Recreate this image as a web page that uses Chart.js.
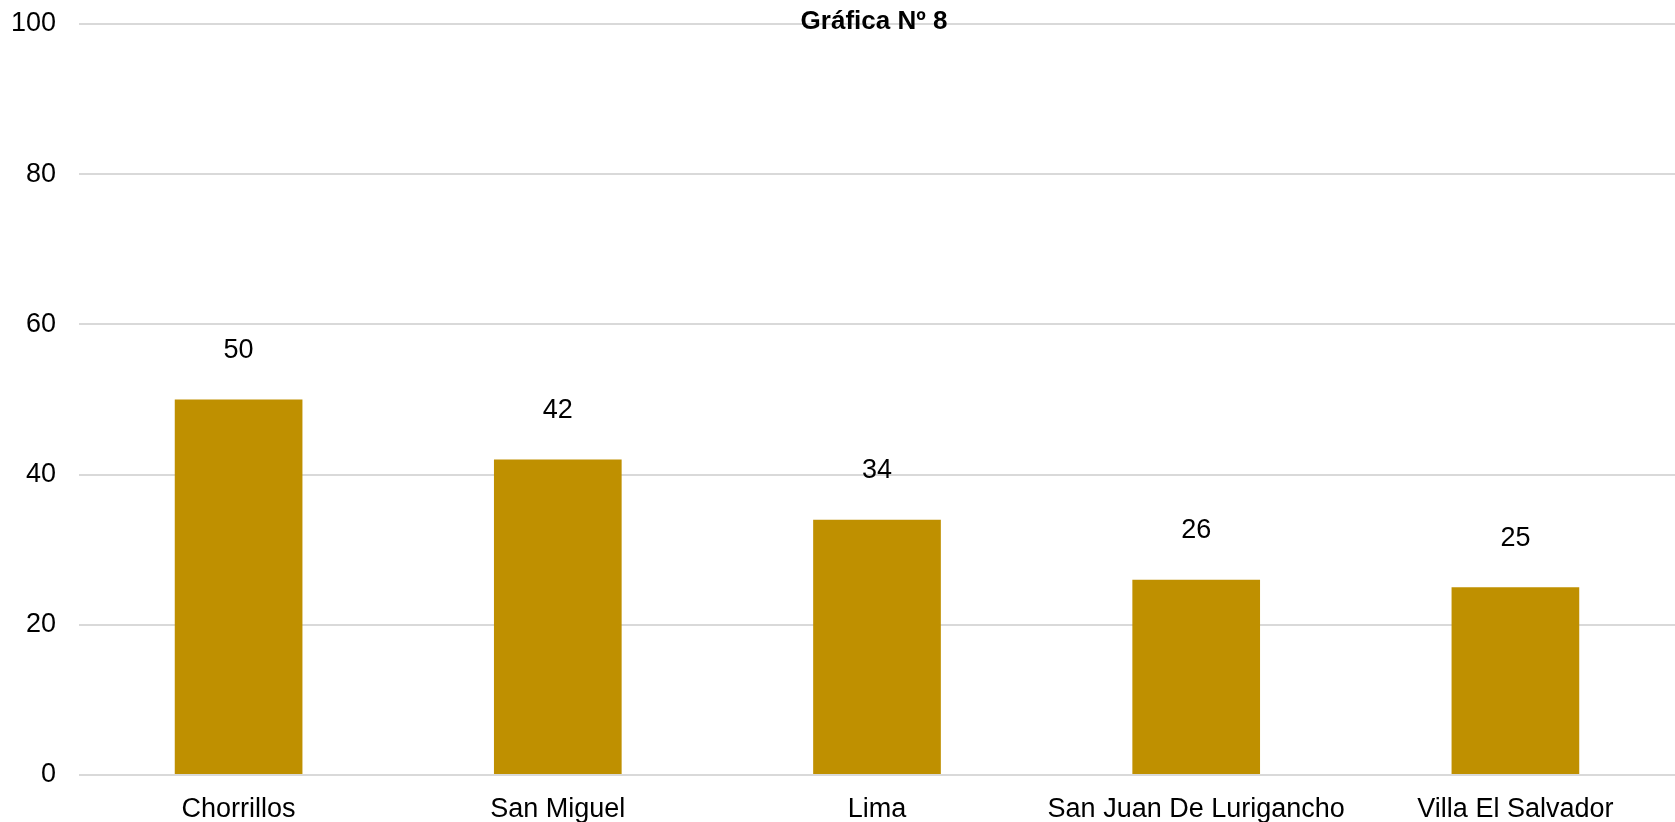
<!DOCTYPE html>
<html>
<head>
<meta charset="utf-8">
<script src="https://cdn.jsdelivr.net/npm/chart.js@4/dist/chart.umd.min.js"></script>
<style>
html,body{margin:0;padding:0;background:#fff;}
#wrap{width:1675px;height:822px;}
</style>
</head>
<body>
<div id="wrap"><canvas id="c" width="1675" height="822"></canvas></div>
<script>
const categories = ["Chorrillos", "San Miguel", "Lima", "San Juan De Lurigancho", "Villa El Salvador"];
const values = [50, 42, 34, 26, 25];
const yTicks = [0, 20, 40, 60, 80, 100];
const titleText = "Gráfica Nº 8";

const FONT = "'Liberation Sans', Arial, sans-serif";

const overlay = {
  id: 'overlay',
  afterDatasetsDraw(chart) {
    const ctx = chart.ctx;
    const meta = chart.getDatasetMeta(0);
    ctx.save();
    ctx.fillStyle = '#000';
    ctx.font = "27px " + FONT;
    ctx.textAlign = 'center';
    ctx.textBaseline = 'middle';
    meta.data.forEach((bar, i) => {
      ctx.fillText(String(values[i]), bar.x, bar.y - 49);
    });
    ctx.restore();
  },
  afterDraw(chart) {
    const ctx = chart.ctx;
    ctx.save();
    ctx.fillStyle = '#000';
    ctx.font = "bold 26px " + FONT;
    ctx.textAlign = 'center';
    ctx.textBaseline = 'middle';
    const a = chart.chartArea;
    ctx.fillText(titleText, (a.left + a.right) / 2 - 3, 22);
    ctx.restore();
  }
};

new Chart(document.getElementById('c'), {
  type: 'bar',
  data: {
    labels: categories,
    datasets: [{
      data: values,
      backgroundColor: '#BF9000',
      barPercentage: 0.4,
      categoryPercentage: 1.0
    }]
  },
  options: {
    responsive: false,
    animation: false,
    devicePixelRatio: 1,
    layout: { padding: { top: 24, right: 0, left: 0, bottom: 0 } },
    plugins: { legend: { display: false }, title: { display: false }, tooltip: { enabled: false } },
    scales: {
      x: {
        grid: { display: false, drawTicks: false },
        border: { display: false },
        ticks: { color: '#000', font: { family: FONT, size: 27 }, padding: 18, maxRotation: 0, autoSkip: false },
        afterFit(s) { s.height = 47; s.paddingLeft = 0; s.paddingRight = 0; }
      },
      y: {
        min: 0, max: 100,
        afterBuildTicks(s) { s.ticks = yTicks.map(v => ({ value: v })); },
        grid: { color: '#d9d9d9', lineWidth: 2, drawTicks: false },
        border: { display: false },
        ticks: { color: '#000', font: { family: FONT, size: 27 }, padding: 23 },
        afterFit(s) { s.width = 79; s.paddingTop = 0; s.paddingBottom = 0; }
      }
    }
  },
  plugins: [overlay]
});
</script>
</body>
</html>
